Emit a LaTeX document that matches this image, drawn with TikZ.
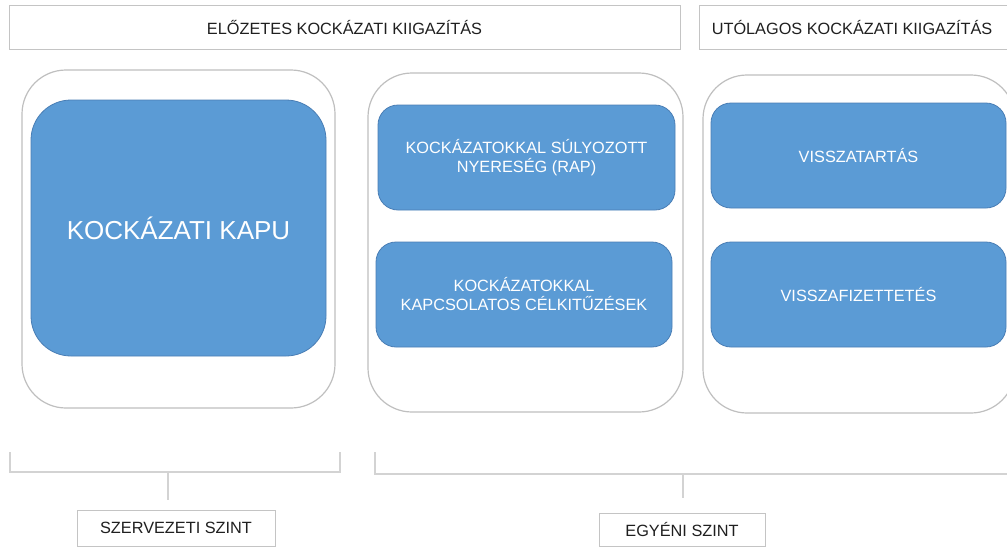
\documentclass[tikz,border=0pt]{standalone}
\usepackage{fontspec}
\setmainfont{Liberation Sans}
\definecolor{accblue}{HTML}{5B9BD5}
\definecolor{blueedge}{HTML}{4A7EB5}
\definecolor{panelgray}{HTML}{BFBFBF}
\definecolor{hdrgray}{HTML}{C4C4C4}
\definecolor{brgray}{HTML}{D3D3D3}
\definecolor{ink}{HTML}{1F1F1F}
\begin{document}
\begin{tikzpicture}[x=1pt,y=-1pt,
  panel/.style={draw=panelgray, line width=1.2pt, fill=white, rounded corners=44pt, inner sep=0pt},
  bluebox/.style={draw=blueedge, line width=0.8pt, fill=accblue, rounded corners=20pt,
    text=white, font=\fontsize{16.3}{19}\selectfont, align=center, inner sep=0pt},
  hdr/.style={draw=hdrgray, line width=1pt, fill=white, inner sep=0pt,
    text=ink, font=\fontsize{16.3}{19}\selectfont},
  bracket/.style={draw=brgray, line width=1.8pt}]
\useasboundingbox (0,0) rectangle (1007,549);

% column headings
\node[hdr, minimum width=671pt, minimum height=44pt] (preadj) at (344.5,27.5)
  {ELŐZETES KOCKÁZATI KIIGAZÍTÁS};
\node[hdr, minimum width=321pt, minimum height=44pt] (postadj) at (859.5,27.5) {};
\node[text=ink, font=\fontsize{16.3}{19}\selectfont, inner sep=0pt] (posttxt) at (852,27.5)
  {UTÓLAGOS KOCKÁZATI KIIGAZÍTÁS};

% panels
\node[panel, minimum width=313pt, minimum height=338pt] (orgpanel) at (178.5,239) {};
\node[panel, minimum width=315pt, minimum height=339pt] (indpanel) at (525.5,242.5) {};
\node[panel, minimum width=312pt, minimum height=338pt] (postpanel) at (859,244) {};

% blue tool boxes
\node[bluebox, rounded corners=40pt, minimum width=295pt, minimum height=256pt,
  font=\fontsize{26}{30}\selectfont] (gate) at (178.5,228) {KOCKÁZATI KAPU};
\node[bluebox, minimum width=297pt, minimum height=105pt] (rap) at (526.5,157.5)
  {KOCKÁZATOKKAL SÚLYOZOTT\\NYERESÉG (RAP)};
\node[bluebox, minimum width=296pt, minimum height=105pt] (goals) at (524,294.5)
  {KOCKÁZATOKKAL\\KAPCSOLATOS CÉLKITŰZÉSEK};
\node[bluebox, minimum width=295pt, minimum height=105pt] (malus) at (858.5,155.5)
  {VISSZATARTÁS};
\node[bluebox, minimum width=295pt, minimum height=105pt] (claw) at (858.5,294.5)
  {VISSZAFIZETTETÉS};

% level labels
\node[hdr, minimum width=198pt, minimum height=36pt] (orglevel) at (176,528)
  {SZERVEZETI SZINT};
\node[hdr, minimum width=166pt, minimum height=33pt] (indlevel) at (682,529.5)
  {EGYÉNI SZINT};

% brackets
\coordinate (lbl) at (10,452);
\coordinate (lbr) at (340,452);
\coordinate (lmid) at (168,472);
\coordinate (lend) at (168,500);
\draw[bracket] (lbl) -- (10,472) -- (340,472) -- (lbr);
\draw[bracket] (lmid) -- (lend);

\coordinate (rbl) at (375,452);
\coordinate (rmid) at (683,474);
\coordinate (rend) at (683,498);
\draw[bracket] (rbl) -- (375,474) -- (1015,474);
\draw[bracket] (rmid) -- (rend);
\end{tikzpicture}
\end{document}
